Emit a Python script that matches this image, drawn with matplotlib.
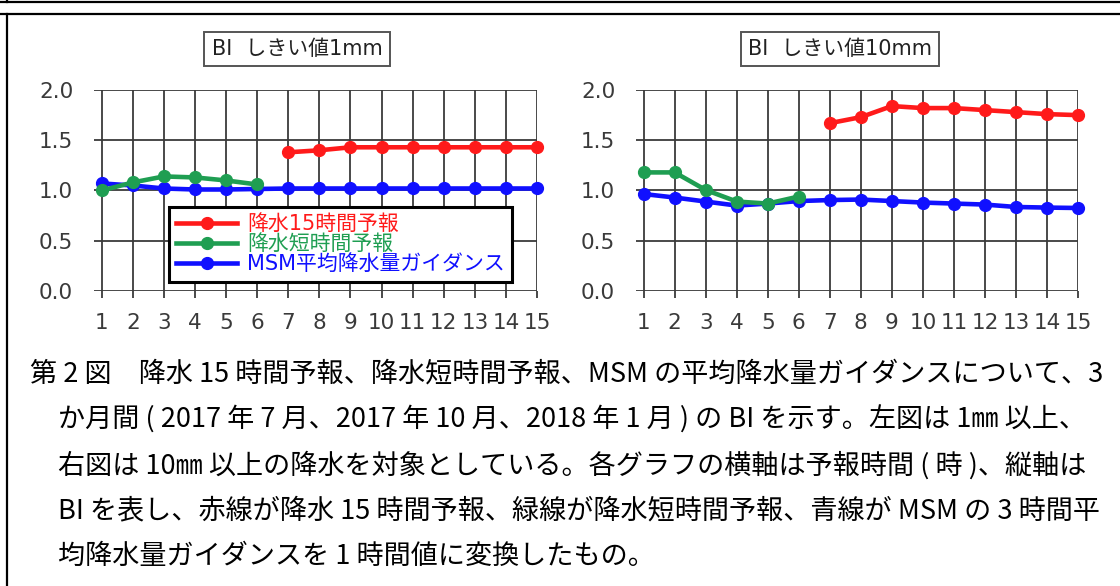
import matplotlib
matplotlib.use("Agg")
import matplotlib.pyplot as plt
from matplotlib.lines import Line2D

plt.rcParams['font.family'] = ['DejaVu Sans', 'Noto Sans CJK JP']

# ---------------- data ----------------
lead_hours = list(range(1, 16))
hours_15h = list(range(7, 16))
hours_short = list(range(1, 7))

# left panel: threshold 1mm
bi1_15h = [1.38, 1.40, 1.43, 1.43, 1.43, 1.43, 1.43, 1.43, 1.43]
bi1_short = [1.00, 1.08, 1.14, 1.13, 1.10, 1.06]
bi1_msm = [1.07, 1.05, 1.02, 1.01, 1.01, 1.015, 1.02, 1.02, 1.02, 1.02, 1.02, 1.02, 1.02, 1.02, 1.02]

# right panel: threshold 10mm
bi10_15h = [1.67, 1.73, 1.84, 1.82, 1.82, 1.80, 1.78, 1.76, 1.75]
bi10_short = [1.18, 1.18, 1.005, 0.89, 0.87, 0.94]
bi10_msm = [0.965, 0.93, 0.89, 0.85, 0.87, 0.895, 0.905, 0.91, 0.895, 0.88, 0.87, 0.86, 0.836, 0.83, 0.826]

yticks = [0.0, 0.5, 1.0, 1.5, 2.0]
ytick_labels = ["0.0", "0.5", "1.0", "1.5", "2.0"]
xtick_labels = [str(h) for h in lead_hours]

titles = ["BI  しきい値1mm", "BI  しきい値10mm"]
series_names = ["降水15時間予報", "降水短時間予報", "MSM平均降水量ガイダンス"]

caption_lines = [
    "第 2 図　降水 15 時間予報、降水短時間予報、MSM の平均降水量ガイダンスについて、3",
    "か月間 ( 2017 年 7 月、2017 年 10 月、2018 年 1 月 ) の BI を示す。左図は 1㎜ 以上、",
    "右図は 10㎜ 以上の降水を対象としている。各グラフの横軸は予報時間 ( 時 )、縦軸は",
    "BI を表し、赤線が降水 15 時間予報、緑線が降水短時間予報、青線が MSM の 3 時間平",
    "均降水量ガイダンスを 1 時間値に変換したもの。",
]

RED = "#ff1a1a"
GREEN = "#1f9e52"
BLUE = "#1010ff"
GRID = "#3a3a3a"
TICKC = "#3a3a3a"

W, H = 1120, 586
fig = plt.figure(figsize=(W / 100, H / 100), dpi=100)

def fx(px):
    return px / W

def fy(py):
    return 1 - py / H

# outer frame lines
fig.add_artist(Line2D([0, 1], [fy(2), fy(2)], color="black", lw=1.6))
fig.add_artist(Line2D([0, 1], [fy(14), fy(14)], color="black", lw=1.6))
fig.add_artist(Line2D([fx(7), fx(7)], [fy(0), fy(2)], color="black", lw=1.6))
fig.add_artist(Line2D([fx(7), fx(7)], [fy(14), fy(586)], color="black", lw=1.6))

panels = [
    (94, 537, bi1_15h, bi1_short, bi1_msm, titles[0], 297),
    (636, 1078, bi10_15h, bi10_short, bi10_msm, titles[1], 840),
]

axes = []
for (x0, x1, r, g, b, title, tcx) in panels:
    ax = fig.add_axes([fx(x0), fy(291), fx(x1 - x0), (291 - 90) / H])
    axes.append(ax)
    left_lim = 1 - 7.7 / 31.1
    ax.set_xlim(left_lim, 15)
    ax.set_ylim(0, 2)
    for s in ax.spines.values():
        s.set_visible(False)
    # grid
    for yv in yticks:
        ax.axhline(yv, color=GRID, lw=1.3, zorder=1)
    for xv in lead_hours:
        ax.plot([xv, xv], [0, 2], color=GRID, lw=1.3, zorder=1)
    ax.set_yticks(yticks)
    ax.set_yticklabels(ytick_labels)
    ax.set_xticks(lead_hours)
    ax.set_xticklabels(xtick_labels)
    ax.tick_params(axis='y', length=0, pad=15, labelsize=15.5, labelcolor=TICKC)
    ax.tick_params(axis='x', length=5, width=1.3, color=GRID, direction='out',
                   pad=11, labelsize=15.5, labelcolor=TICKC)
    ax.plot(hours_15h, r, color=RED, lw=3.3, marker='o', ms=8.5, clip_on=False, zorder=4,
            label=series_names[0])
    ax.plot(hours_short, g, color=GREEN, lw=3.3, marker='o', ms=8.5, clip_on=False, zorder=4,
            label=series_names[1])
    ax.plot(lead_hours, b, color=BLUE, lw=3.3, marker='o', ms=8.5, clip_on=False, zorder=3,
            label=series_names[2])
    fig.text(fx(tcx), fy(49), title, ha='center', va='center', fontsize=15, color="#222222",
             bbox=dict(boxstyle='square,pad=0.35', fc='white', ec='#555555', lw=1.4))

handles, labels = axes[0].get_legend_handles_labels()
leg = axes[0].legend(handles, labels, loc='upper left',
                     bbox_to_anchor=(fx(169), fy(207)), bbox_transform=fig.transFigure,
                     frameon=True, fancybox=False, edgecolor='black', framealpha=1,
                     fontsize=15, handlelength=2.9, handletextpad=0.5, labelspacing=0.0,
                     borderpad=0.35, borderaxespad=0, labelcolor='linecolor')
leg.get_frame().set_linewidth(2.2)
leg.set_zorder(10)

ys = [374, 420, 465, 511, 556]
for i, (line, yy) in enumerate(zip(caption_lines, ys)):
    fig.text(fx(30 if i == 0 else 58), fy(yy), line, ha='left', va='center',
             fontsize=19.5, color='black', family=['Noto Sans CJK JP', 'DejaVu Sans'])

fig.savefig("out.png", dpi=100)
